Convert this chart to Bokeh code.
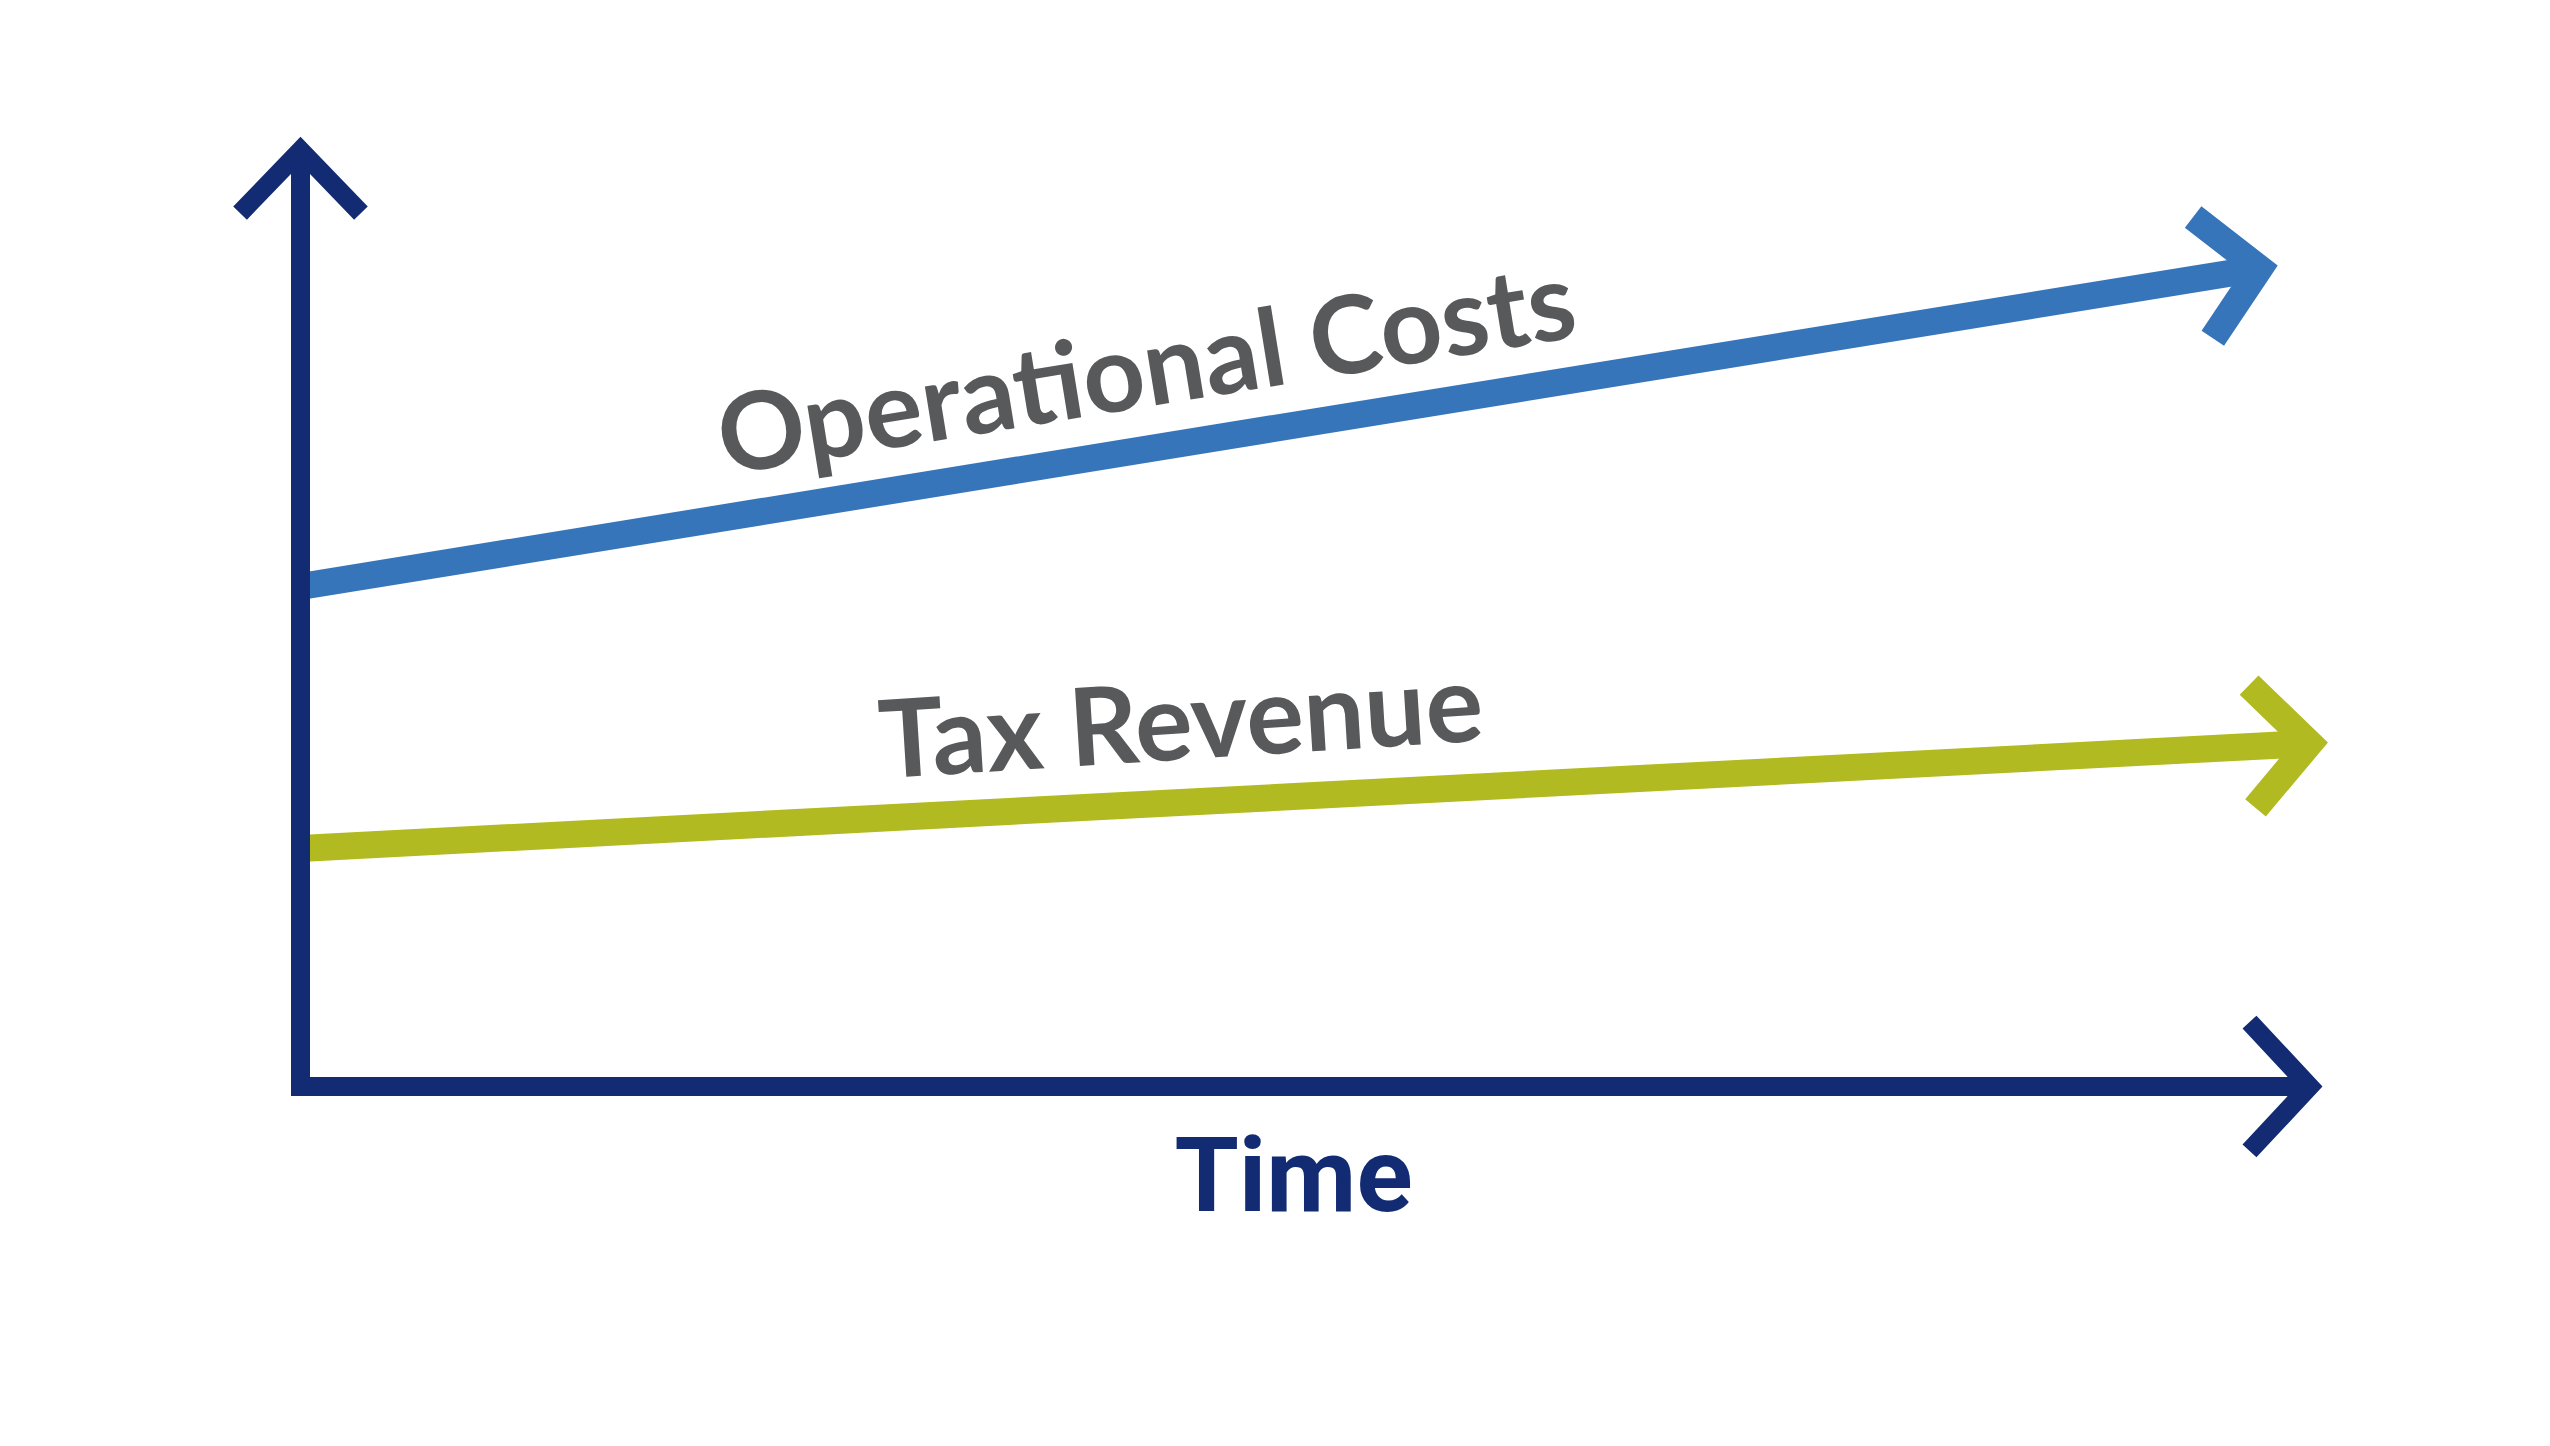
import math
from bokeh.plotting import figure
from bokeh.models import Range1d
from bokeh.core.properties import value
from bokeh.embed import file_html
from bokeh.resources import INLINE

# ---- data (conceptual chart: value vs time) ----
series_names = ["Operational Costs", "Tax Revenue"]
time_ops = [0.0, 19.59]
ops_costs = [5.0, 8.18]
time_tax = [0.0, 20.09]
tax_revenue = [2.38, 3.43]
axis_time_end = 20.09
axis_value_end = 9.36
x_axis_label = "Time"

NAVY = "#122B73"
BLUE = "#3775BA"
GREEN = "#B1BB21"
GRAY = "#58595B"

p = figure(width=2534, height=1430, output_backend="svg", toolbar_location=None,
           x_range=Range1d(-3.0, 22.34), y_range=Range1d(-3.44, 10.86),
           min_border=0)
p.axis.visible = False
p.grid.visible = False
p.outline_line_color = None
p.background_fill_color = "white"
p.border_fill_color = "white"


def head(xs, ys, length, half_deg):
    tx, ty = xs[-1], ys[-1]
    ang = math.atan2(ys[-1] - ys[-2], xs[-1] - xs[-2])
    h = math.radians(half_deg)
    a1 = ang + math.pi - h
    a2 = ang + math.pi + h
    return ([tx + length * math.cos(a1), tx, tx + length * math.cos(a2)],
            [ty + length * math.sin(a1), ty, ty + length * math.sin(a2)])


# series lines with arrow heads
for xs, ys, col in [(time_ops, ops_costs, BLUE), (time_tax, tax_revenue, GREEN)]:
    p.line(xs, ys, line_width=27, line_color=col, line_cap="butt")
    hx, hy = head(xs, ys, 0.84, 47)
    p.line(hx, hy, line_width=27, line_color=col, line_cap="butt", line_join="miter")

# axes (drawn on top)
ax_x = [0, 0, axis_time_end]
ax_y = [axis_value_end, 0, 0]
p.line(ax_x, ax_y, line_width=19, line_color=NAVY, line_join="miter", line_cap="butt")
hx, hy = head([0, 0], [0, axis_value_end], 0.87, 44)
p.line(hx, hy, line_width=19, line_color=NAVY, line_join="miter", line_cap="butt")
hx, hy = head([0, axis_time_end], [0, 0], 0.88, 47)
p.line(hx, hy, line_width=19, line_color=NAVY, line_join="miter", line_cap="butt")

# labels along lines
label_offset = 0.85
for name, xs, ys, lx, extra in [(series_names[0], time_ops, ops_costs, 8.45, 0.0),
                                (series_names[1], time_tax, tax_revenue, 8.8, 0.6)]:
    slope = (ys[1] - ys[0]) / (xs[1] - xs[0])
    ly = ys[0] + slope * (lx - xs[0]) + label_offset
    ang = math.atan(slope) + math.radians(extra)
    p.text(x=[lx], y=[ly], text=[name], angle=ang,
           text_font=value("Lato"), text_font_style="bold",
           text_font_size="108px", text_color=GRAY,
           text_align="center", text_baseline="alphabetic")

p.text(x=[9.93], y=[-0.89], text=[x_axis_label],
       text_font=value("Roboto"), text_font_style="bold",
       text_font_size="104px", text_color=NAVY,
       text_align="center", text_baseline="alphabetic")

open("out.html", "w").write(file_html(p, INLINE))
